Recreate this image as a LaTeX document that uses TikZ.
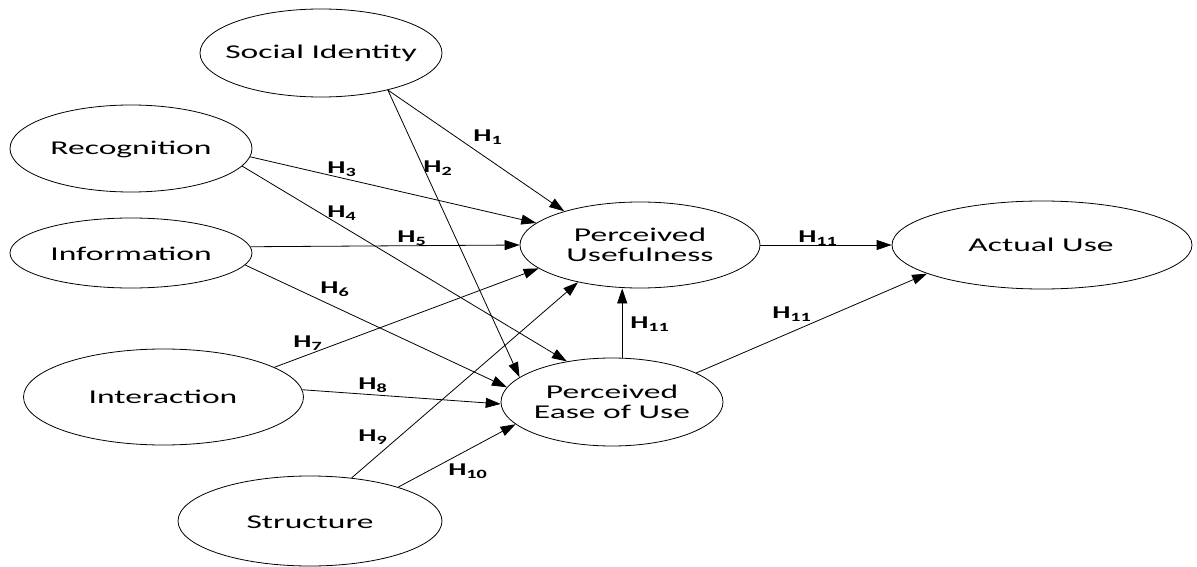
\documentclass[tikz,border=0pt]{standalone}
\usepackage{fontspec}
\setmainfont{Carlito}
\usetikzlibrary{shapes.geometric,arrows.meta}
\newcommand{\sx}[1]{\scalebox{1.72}[1]{#1}}
\newcommand{\hx}[1]{\scalebox{1.6}[1]{#1}}
\tikzset{
  ell/.style={ellipse, draw, line width=0.8pt, inner sep=0pt},
  arr/.style={-{Triangle[length=15pt,width=10pt]}, line width=0.8pt},
  hlab/.style={font=\fontsize{18}{20}\selectfont\bfseries, inner sep=0pt},
  txt/.style={font=\fontsize{19.5}{20}\selectfont, inner sep=0pt, align=center}
}
\begin{document}
\begin{tikzpicture}[x=1pt,y=-1pt]
\useasboundingbox (0,0) rectangle (1197,567);
% ellipses
\node[ell, minimum width=242pt, minimum height=88pt] (si) at (321,53) {};
\node[ell, minimum width=242pt, minimum height=87pt] (rec) at (131,148.5) {};
\node[ell, minimum width=242pt, minimum height=70pt] (inf) at (131,253) {};
\node[ell, minimum width=280pt, minimum height=96pt] (int) at (163.5,397) {};
\node[ell, minimum width=264pt, minimum height=90pt] (str) at (310,521) {};
\node[ell, minimum width=240pt, minimum height=86pt] (pu) at (640,245) {};
\node[ell, minimum width=222pt, minimum height=88pt] (peou) at (612,402) {};
\node[ell, minimum width=300pt, minimum height=88pt] (au) at (1042,245) {};
% texts
\node[txt] (tsi) at (321,53) {\sx{Social Identity}};
\node[txt] (trec) at (131,149) {\sx{Recognition}};
\node[txt] (tinf) at (131,254) {\sx{Information}};
\node[txt] (tint) at (163,397) {\sx{Interaction}};
\node[txt] (tstr) at (310,522) {\sx{Structure}};
\node[txt] (tpu) at (640,245) {\sx{Perceived}\\\sx{Usefulness}};
\node[txt] (tpeou) at (612,402) {\sx{Perceived}\\\sx{Ease of Use}};
\node[txt] (tau) at (1041,245) {\sx{Actual Use}};
% arrows
\draw[arr] (si.-29.7) -- (pu.156.9);
\draw[arr] (si.-29.7) -- (peou.165.8);
\draw[arr] (rec.-4.5) -- (pu.168.4);
\draw[arr] (rec.-9.5) -- (peou.138.2);
\draw[arr] (inf.3.8) -- (pu.180);
\draw[arr] (inf.-6.8) -- (peou.172.6);
\draw[arr] (int.15.1) -- (pu.193.6);
\draw[arr] (int.3.3) -- (peou.181);
\draw[arr] (str.46.4) -- (pu.211.5);
\draw[arr] (str.21.8) -- (peou.193.6);
\draw[arr] (pu.0) -- (au.180);
\draw[arr] (peou.77.2) -- (peou.77.2 |- pu.south);
\draw[arr] (peou.19.2) -- (au.194.7);
% hypothesis labels
\node[hlab] (h1) at (488,137) {\hx{H\textsubscript{1}}};
\node[hlab] (h2) at (438,168) {\hx{H\textsubscript{2}}};
\node[hlab] (h3) at (342,169) {\hx{H\textsubscript{3}}};
\node[hlab] (h4) at (342,213) {\hx{H\textsubscript{4}}};
\node[hlab] (h5) at (412,238) {\hx{H\textsubscript{5}}};
\node[hlab] (h6) at (335,289) {\hx{H\textsubscript{6}}};
\node[hlab] (h7) at (308,343) {\hx{H\textsubscript{7}}};
\node[hlab] (h8) at (373,385) {\hx{H\textsubscript{8}}};
\node[hlab] (h9) at (373,437) {\hx{H\textsubscript{9}}};
\node[hlab] (h10) at (468,471) {\hx{H\textsubscript{10}}};
\node[hlab] (h11a) at (818,238) {\hx{H\textsubscript{11}}};
\node[hlab] (h11b) at (650,324) {\hx{H\textsubscript{11}}};
\node[hlab] (h11c) at (792,314) {\hx{H\textsubscript{11}}};
\end{tikzpicture}
\end{document}
